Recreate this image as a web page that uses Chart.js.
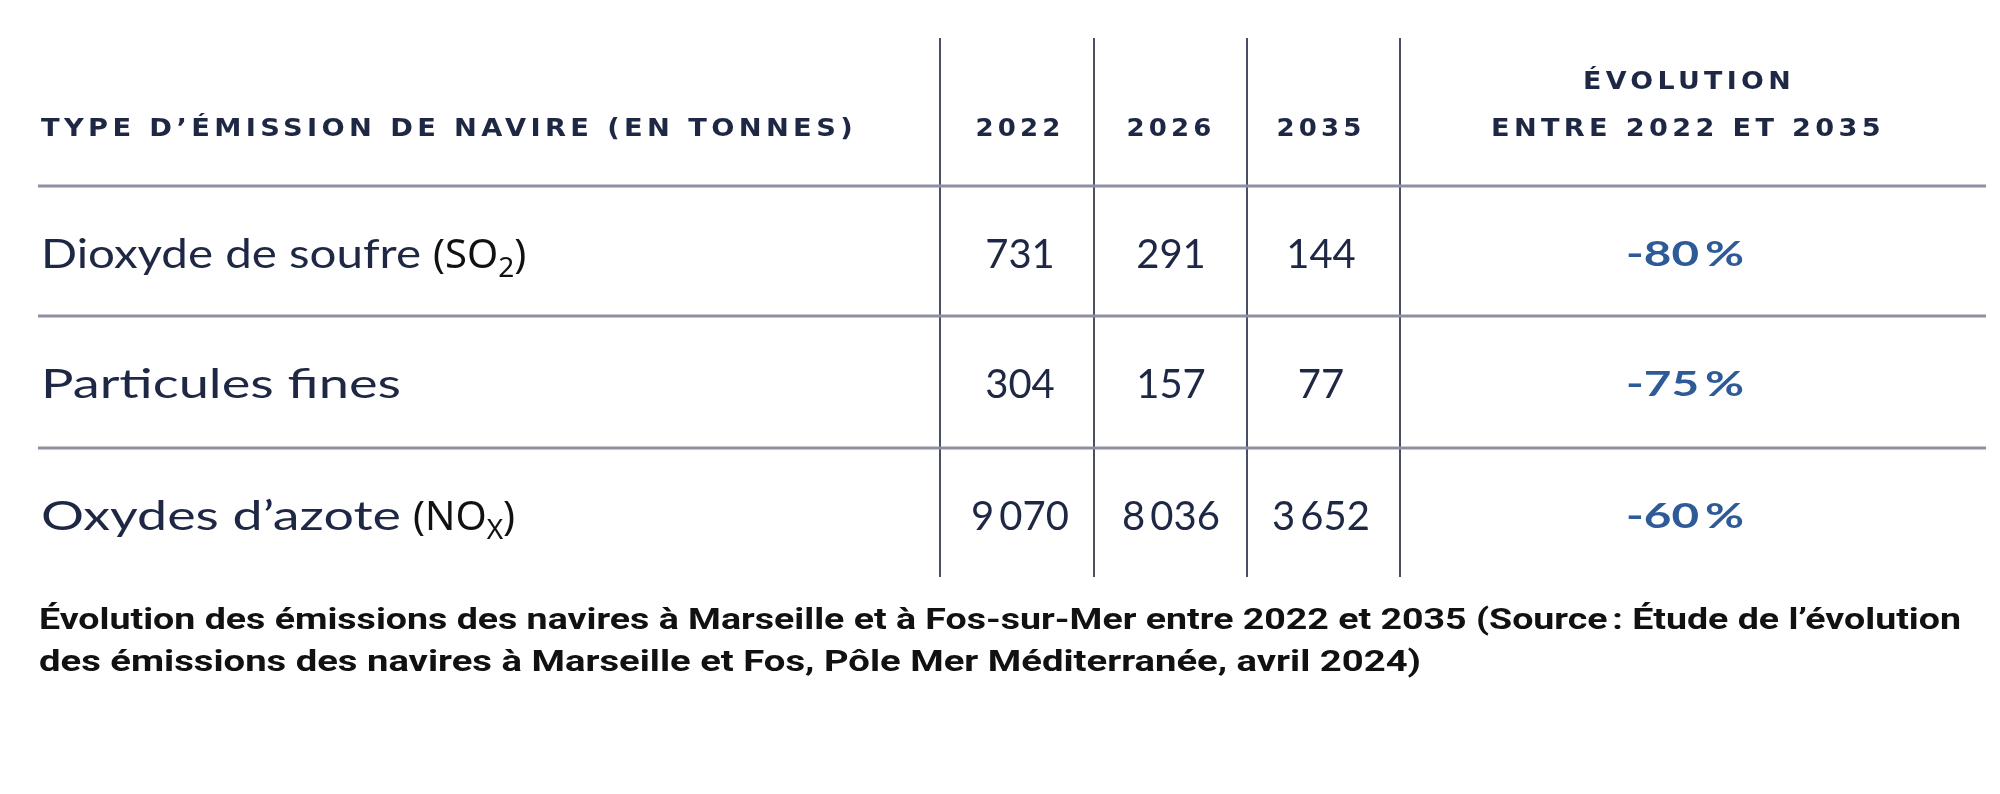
<!DOCTYPE html>
<html>
<head>
<meta charset="utf-8">
<script src="https://cdn.jsdelivr.net/npm/chart.js@4/dist/chart.umd.min.js"></script>
<style>
  html, body { margin: 0; padding: 0; background: #fff; }
  #wrap { width: 2000px; height: 794px; }
</style>
</head>
<body>
<div id="wrap"><canvas id="tbl" width="2000" height="794"></canvas></div>
<script>
// table data
const headerLabel = "TYPE D\u2019ÉMISSION DE NAVIRE (EN TONNES)";
const years = ["2022", "2026", "2035"];
const evolHeader = ["ÉVOLUTION", "ENTRE 2022 ET 2035"];
const rowNames = ["Dioxyde de soufre", "Particules fines", "Oxydes d\u2019azote"];
const rowFormula = [["SO", "2"], null, ["NO", "X"]];
const values2022 = ["731", "304", "9\u2009070"];
const values2026 = ["291", "157", "8\u2009036"];
const values2035 = ["144", "77", "3\u2009652"];
const evolution = ["-80\u2009%", "-75\u2009%", "-60\u2009%"];
const caption = [
  "Évolution des émissions des navires à Marseille et à Fos-sur-Mer entre 2022 et 2035 (Source\u202f: Étude de l\u2019évolution",
  "des émissions des navires à Marseille et Fos, Pôle Mer Méditerranée, avril 2024)"
];

// layout (page units)
const colCenters = [1020, 1171, 1321];
const evolCenter = 1685;
const vLines = [940, 1094, 1247, 1400];
const hLines = [186, 316, 448];
const rowY = [255, 385, 517];

const NAVY = '#1e2744';
const BLUE = '#2e5b98';

function fitText(ctx, text, x, y, width, align) {
  const w = ctx.measureText(text).width;
  const s = width ? width / w : 1;
  ctx.save();
  let x0 = x;
  if (align === 'center') x0 = x - (w * s) / 2;
  else if (align === 'right') x0 = x - w * s;
  ctx.translate(x0, y);
  ctx.scale(s, 1);
  ctx.textAlign = 'left';
  ctx.fillText(text, 0, 0);
  ctx.restore();
  return w * s;
}

const tablePlugin = {
  id: 'tablePlugin',
  afterDraw(chart) {
    const ctx = chart.ctx;
    const X = v => chart.scales.x.getPixelForValue(v);
    const Y = v => chart.scales.y.getPixelForValue(v);
    ctx.save();
    ctx.textBaseline = 'middle';

    // grid lines
    ctx.strokeStyle = '#4a4f66';
    ctx.lineWidth = 2;
    vLines.forEach(v => {
      ctx.beginPath(); ctx.moveTo(X(v), Y(38)); ctx.lineTo(X(v), Y(577)); ctx.stroke();
    });
    ctx.strokeStyle = '#8d90a0';
    ctx.lineWidth = 3;
    hLines.forEach(v => {
      ctx.beginPath(); ctx.moveTo(X(38), Y(v)); ctx.lineTo(X(1986), Y(v)); ctx.stroke();
    });

    // header
    ctx.fillStyle = NAVY;
    ctx.font = 'bold 25px "DejaVu Sans"';
    ctx.letterSpacing = '4px';
    fitText(ctx, headerLabel, X(41), Y(129), 816, 'left');
    years.forEach((yr, i) => fitText(ctx, yr, X(colCenters[i]), Y(129), 89, 'center'));
    fitText(ctx, evolHeader[0], X(1689), Y(82), 212, 'center');
    fitText(ctx, evolHeader[1], X(1688), Y(129), 394, 'center');
    ctx.letterSpacing = '0px';

    // rows
    rowNames.forEach((name, r) => {
      const y = Y(rowY[r]);
      ctx.fillStyle = NAVY;
      ctx.font = '40px Lato';
      const w = fitText(ctx, name, X(41), y, r === 0 ? 380 : 360, 'left');
      const f = rowFormula[r];
      if (f) {
        ctx.font = '40px "Noto Sans"';
        ctx.fillStyle = '#111';
        let x = X(41) + w + 12;
        ctx.fillText('(' + f[0], x, y + 2);
        x += ctx.measureText('(' + f[0]).width;
        ctx.font = '28px "Noto Sans"';
        ctx.fillText(f[1], x, y + 14);
        x += ctx.measureText(f[1]).width;
        ctx.font = '40px "Noto Sans"';
        ctx.fillText(')', x, y + 2);
      }
      ctx.fillStyle = NAVY;
      ctx.font = '40px Lato';
      [values2022, values2026, values2035].forEach((vals, c) => {
        fitText(ctx, vals[r], X(colCenters[c]), y, null, 'center');
      });
      ctx.fillStyle = BLUE;
      ctx.font = 'bold 34px Lato';
      fitText(ctx, evolution[r], X(evolCenter), y, 118, 'center');
    });

    // caption
    ctx.fillStyle = '#111';
    ctx.font = 'bold 30px Roboto';
    fitText(ctx, caption[0], X(39), Y(621), 1922, 'left');
    fitText(ctx, caption[1], X(39), Y(663), 1382, 'left');
    ctx.restore();
  }
};

new Chart(document.getElementById('tbl'), {
  type: 'scatter',
  data: { datasets: [{ data: [], pointRadius: 0 }] },
  options: {
    responsive: false,
    animation: false,
    layout: { padding: 0 },
    plugins: { legend: { display: false }, tooltip: { enabled: false } },
    scales: {
      x: { type: 'linear', min: 0, max: 2000, display: false },
      y: { type: 'linear', min: 0, max: 794, reverse: true, display: false }
    }
  },
  plugins: [tablePlugin]
});
</script>
</body>
</html>
